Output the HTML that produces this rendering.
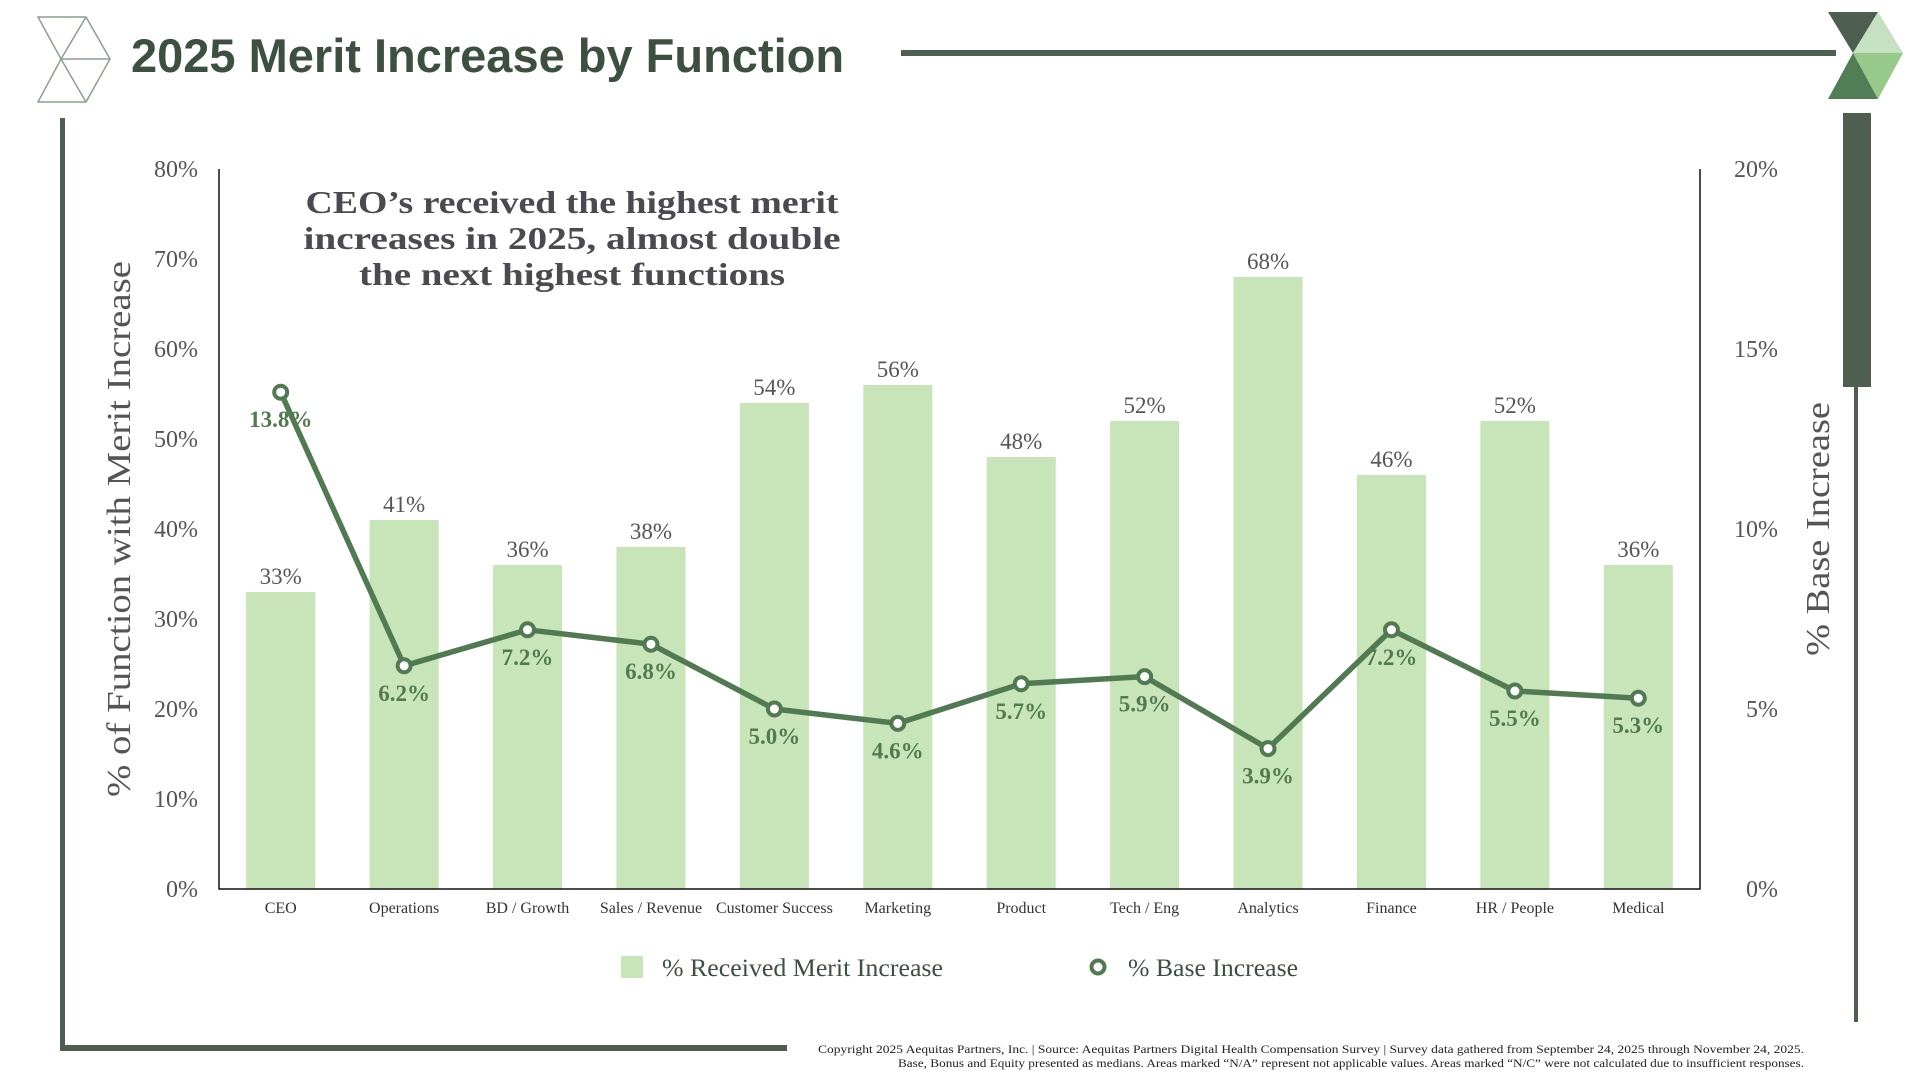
<!DOCTYPE html>
<html><head><meta charset="utf-8">
<style>
html,body{margin:0;padding:0;background:#fff;}
body{width:1920px;height:1080px;position:relative;overflow:hidden;font-family:"Liberation Serif",serif;}
#title{position:absolute;left:131px;top:28px;font-family:"Liberation Sans",sans-serif;font-weight:bold;font-size:47px;color:#3d5040;letter-spacing:0px;margin:0;}
</style></head>
<body>
<h1 id="title">2025 Merit Increase by Function</h1>
<svg id="deco" width="1920" height="1080" style="position:absolute;left:0;top:0">
  <g fill="none" stroke="#8aa08c" stroke-width="1.5">
    <polygon points="38,17 86,17 110,59 86,102 38,102 61,59"/>
    <line x1="61" y1="59" x2="110" y2="59"/><line x1="61" y1="59" x2="86" y2="17"/><line x1="61" y1="59" x2="86" y2="102"/>
  </g>
  <g>
    <polygon points="1828,12 1878,12 1853,53" fill="#4e5e50"/>
    <polygon points="1878,12 1903,53 1853,53" fill="#c6e0c2"/>
    <polygon points="1853,53 1903,53 1878,99" fill="#96c98a"/>
    <polygon points="1853,53 1878,99 1828,99" fill="#527e55"/>
  </g>
  <rect x="901" y="50" width="935" height="6" fill="#4e5e50"/>
  <rect x="1843" y="113" width="28" height="274" fill="#4e5e50"/>
  <rect x="1854" y="386" width="4" height="636" fill="#4e5e50"/>
  <rect x="60" y="118" width="5" height="932" fill="#4e5e50"/>
  <rect x="60" y="1045" width="727" height="6" fill="#4e5e50"/>
</svg>
<svg id="chart" width="1920" height="1080" style="position:absolute;left:0;top:0"></svg>
<svg width="1920" height="1080" style="position:absolute;left:0;top:0">
  <text x="1804" y="1053" text-anchor="end" font-size="12" fill="#222" textLength="986" lengthAdjust="spacingAndGlyphs">Copyright 2025 Aequitas Partners, Inc.  |  Source: Aequitas Partners Digital Health Compensation Survey  |  Survey data gathered from September 24, 2025 through November 24, 2025.</text>
  <text x="1804" y="1067" text-anchor="end" font-size="12" fill="#222" textLength="906" lengthAdjust="spacingAndGlyphs">Base, Bonus and Equity presented as medians.  Areas marked “N/A” represent not applicable values. Areas marked “N/C” were not calculated due to insufficient responses.</text>
</svg>
<script>
const categories = ["CEO","Operations","BD / Growth","Sales / Revenue","Customer Success","Marketing","Product","Tech / Eng","Analytics","Finance","HR / People","Medical"];
const meritValues = [33,41,36,38,54,56,48,52,68,46,52,36];
const baseValues = [13.8,6.2,7.2,6.8,5.0,4.6,5.7,5.9,3.9,7.2,5.5,5.3];
const leftTicks = [0,10,20,30,40,50,60,70,80];
const rightTicks = [0,5,10,15,20];

const NS="http://www.w3.org/2000/svg";
const svg=document.getElementById('chart');
const L=219,R=1700,T=169,B=889;
const band=(R-L)/categories.length;
const xC=i=>L+band*(i+0.5);
const yL=v=>B-(v/80)*(B-T);
const yR=v=>B-(v/20)*(B-T);
function mk(tag,attrs,txt){const e=document.createElementNS(NS,tag);for(const k in attrs)e.setAttribute(k,attrs[k]);if(txt!==undefined)e.textContent=txt;svg.appendChild(e);return e;}

leftTicks.forEach(v=>{
  const t=mk('text',{x:198,y:yL(v)+8,'text-anchor':'end','font-size':24,fill:'#555'},v+'%');
  
  
});
rightTicks.forEach(v=>{
  const t=mk('text',{x:1778,y:yR(v)+8,'text-anchor':'end','font-size':24,fill:'#555'},v+'%');
  
  
});

meritValues.forEach((v,i)=>{
  const w=band*0.56;
  const r=mk('rect',{x:xC(i)-w/2,y:yL(v),width:w,height:B-yL(v),fill:'#c8e5b9'});
  
  
  const t=mk('text',{x:xC(i),y:yL(v)-8,'text-anchor':'middle','font-size':23,fill:'#555'},Math.round(v)+'%');
  
  
  const c=mk('text',{x:xC(i),y:913,'text-anchor':'middle','font-size':16,fill:'#333'},categories[i]);
  
  
});

const ax=mk('path',{d:`M${L},${T} L${L},${B} L${R},${B} L${R},${T}`,fill:'none',stroke:'#111','stroke-width':1.5});



const pts=baseValues.map((v,i)=>xC(i)+','+yR(v)).join(' ');
const pl=mk('polyline',{points:pts,fill:'none',stroke:'#527a52','stroke-width':5.5,'stroke-linejoin':'round'});


baseValues.forEach((v,i)=>{
  const c=mk('circle',{cx:xC(i),cy:yR(v),r:6.5,fill:'#fff',stroke:'#527a52','stroke-width':4});
  
  
  const t=mk('text',{x:xC(i),y:yR(v)+35,'text-anchor':'middle','font-size':23,'font-weight':'bold',fill:'#527a52'},v.toFixed(1)+'%');
  
  
});

const note=["CEO’s received the highest merit","increases in 2025, almost double","the next highest functions"];
const noteLen=[533,537,426];
note.forEach((s,i)=>{
  const t=mk('text',{x:572,y:213+i*36,'text-anchor':'middle','font-size':32,'font-weight':'bold',fill:'#4a4a50',textLength:noteLen[i],lengthAdjust:'spacingAndGlyphs'},s);
  
  
});

const yt=mk('text',{x:0,y:0,'text-anchor':'middle','font-size':34,fill:'#555',transform:'translate(130,529) rotate(-90)',textLength:536,lengthAdjust:'spacingAndGlyphs'},'% of Function with Merit Increase');


const yt2=mk('text',{x:0,y:0,'text-anchor':'middle','font-size':34,fill:'#555',transform:'translate(1829,529) rotate(-90)',textLength:254,lengthAdjust:'spacingAndGlyphs'},'% Base Increase');



const lg1=mk('rect',{x:621,y:956,width:22,height:22,fill:'#c8e5b9'});


const lt1=mk('text',{x:662,y:976,'font-size':25,fill:'#3d5040',textLength:281,lengthAdjust:'spacingAndGlyphs'},'% Received Merit Increase');


const lg2=mk('circle',{cx:1098,cy:967,r:6.5,fill:'#fff',stroke:'#527a52','stroke-width':4});


const lt2=mk('text',{x:1128,y:976,'font-size':25,fill:'#3d5040',textLength:170,lengthAdjust:'spacingAndGlyphs'},'% Base Increase');


</script>
</body></html>
